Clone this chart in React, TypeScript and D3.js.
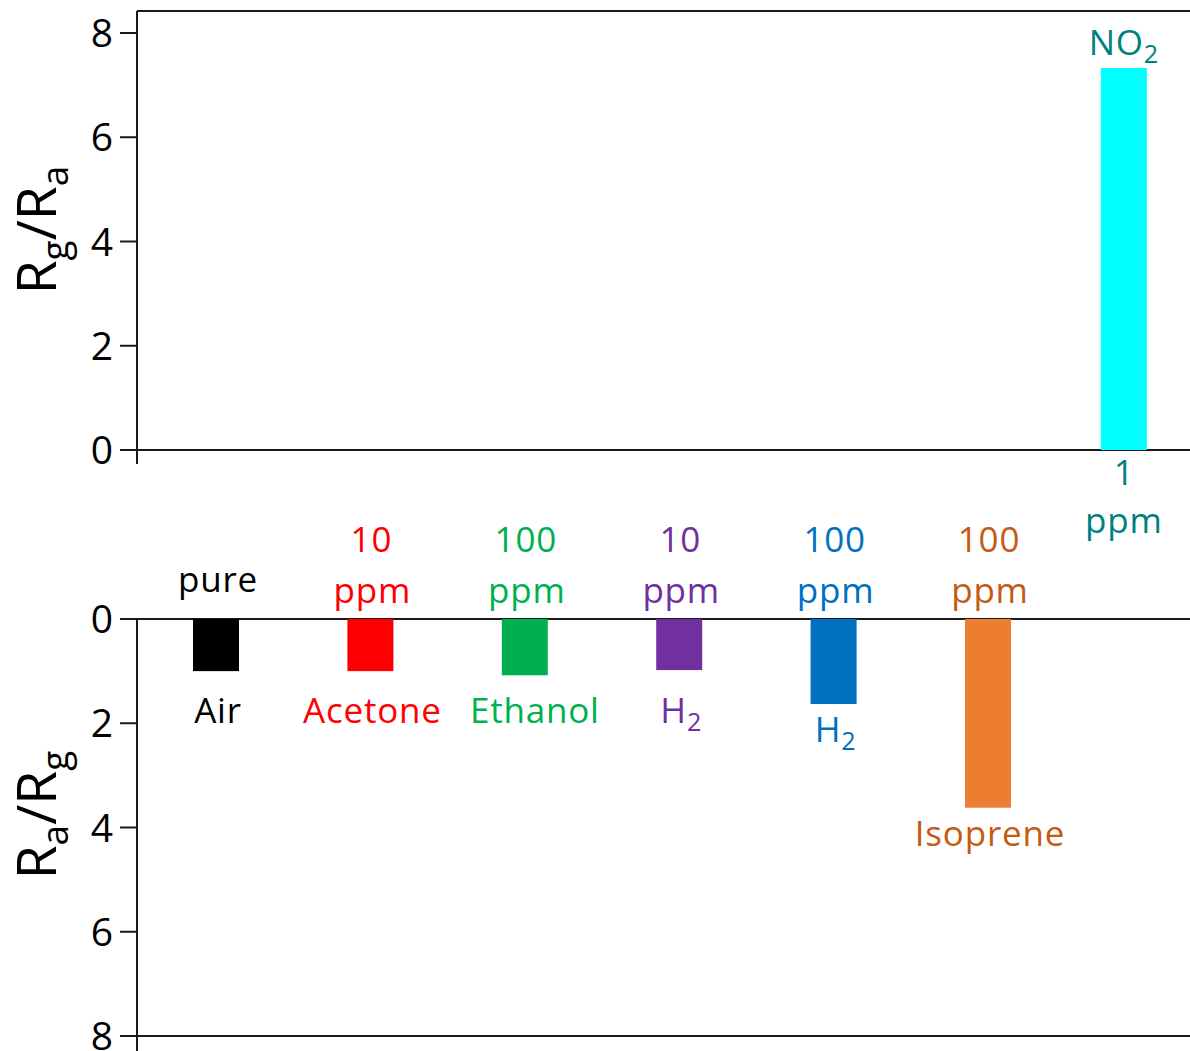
import React from "react";
import * as d3 from "d3";

// ---- data ----
const gases = ["Air", "Acetone", "Ethanol", "H2", "H2", "Isoprene"];
const concNumbers = ["", "10", "100", "10", "100", "100"];
const concUnits = ["pure", "ppm", "ppm", "ppm", "ppm", "ppm"];
const reducingResponse = [1.0, 1.0, 1.08, 0.98, 1.63, 3.62]; // Ra/Rg
const slots = [0, 1, 2, 3, 4, 5];
const barColors = ["#000000", "#FF0000", "#00B050", "#7030A0", "#0070C0", "#ED7D31"];
const textColors = ["#000000", "#FF0000", "#00B050", "#7030A0", "#0070C0", "#C55A11"];

const oxGas = ["NO2"];
const oxConc = ["1"];
const oxUnit = ["ppm"];
const oxResponse = [7.33]; // Rg/Ra
const oxSlot = [5.88];
const oxBarColor = ["#00FFFF"];
const oxTextColor = ["#008080"];

const yTicks = [0, 2, 4, 6, 8];

const W = 1190;
const H = 1051;
const FONT = "'Open Sans', 'Noto Sans', sans-serif";
const AX = "#1a1a1a";

function Formula({ label, x, y, color, size }: { label: string; x: number; y: number; color: string; size: number }) {
  const parts = label.match(/[A-Za-z]+|\d+/g) || [];
  const children: any[] = [];
  let sub = false;
  parts.forEach((p, i) => {
    if (/^\d+$/.test(p) && i > 0) {
      children.push(
        <tspan key={i} fontSize={size * 0.72} dy={size * 0.22}>
          {p}
        </tspan>
      );
      sub = true;
    } else {
      children.push(
        <tspan key={i} dy={sub ? -size * 0.22 : 0}>
          {p}
        </tspan>
      );
      sub = false;
    }
  });
  return (
    <text x={x} y={y} fill={color} fontSize={size} textAnchor="middle" fontFamily={FONT} letterSpacing={0.8}>
      {children}
    </text>
  );
}

export default function App() {
  const x = d3.scaleLinear().domain([0, 5]).range([216, 988]);
  const barW = 46;
  const yTop = d3.scaleLinear().domain([0, 8]).range([450, 33]);
  const yBot = d3.scaleLinear().domain([0, 8]).range([619, 1036]);
  const axisX = 137;
  const right = W;
  const labelSize = 35;

  return (
    <svg width={W} height={H} style={{ position: "absolute", left: 0, top: 0, background: "#fff" }}>
      <rect x={0} y={0} width={W} height={H} fill="#fff" />

      {/* ---------- top panel ---------- */}
      <line x1={axisX} x2={right} y1={11} y2={11} stroke={AX} strokeWidth={2} />
      <line x1={axisX} x2={right} y1={yTop(0)} y2={yTop(0)} stroke={AX} strokeWidth={2} />
      <line x1={axisX} x2={axisX} y1={11} y2={yTop(0) + 14} stroke={AX} strokeWidth={2} />
      {yTicks.map((t) => (
        <g key={"tt" + t}>
          <line x1={axisX - 17} x2={axisX} y1={yTop(t)} y2={yTop(t)} stroke={AX} strokeWidth={2} />
          <text x={113} y={yTop(t)} dy="0.36em" textAnchor="end" fontSize={39} fontFamily={FONT} fill="#000">
            {t}
          </text>
        </g>
      ))}
      <text transform={`translate(56,230) rotate(-90)`} textAnchor="middle" fontSize={55} fontFamily={FONT} fill="#000">
        R<tspan fontSize={37} dy={12}>g</tspan>
        <tspan dy={-12}>/R</tspan>
        <tspan fontSize={37} dy={12}>a</tspan>
      </text>

      {oxResponse.map((v, i) => {
        const cx = x(oxSlot[i]);
        return (
          <g key={"ox" + i}>
            <rect x={cx - barW / 2} y={yTop(v)} width={barW} height={yTop(0) - yTop(v)} fill={oxBarColor[i]} />
            <Formula label={oxGas[i]} x={cx} y={yTop(v) - 13} color={oxTextColor[i]} size={labelSize} />
            <text x={cx} y={yTop(0) + 35} textAnchor="middle" fontSize={labelSize} fontFamily={FONT} fill={oxTextColor[i]}>
              {oxConc[i]}
            </text>
            <text x={cx} y={yTop(0) + 83} textAnchor="middle" fontSize={labelSize} fontFamily={FONT} fill={oxTextColor[i]} letterSpacing={0.8}>
              {oxUnit[i]}
            </text>
          </g>
        );
      })}

      {/* ---------- bottom panel ---------- */}
      <line x1={axisX} x2={right} y1={yBot(0)} y2={yBot(0)} stroke={AX} strokeWidth={2} />
      <line x1={axisX} x2={right} y1={yBot(8)} y2={yBot(8)} stroke={AX} strokeWidth={2} />
      <line x1={axisX} x2={axisX} y1={yBot(0)} y2={H} stroke={AX} strokeWidth={2} />
      {yTicks.map((t) => (
        <g key={"bt" + t}>
          <line x1={axisX - 17} x2={axisX} y1={yBot(t)} y2={yBot(t)} stroke={AX} strokeWidth={2} />
          <text x={113} y={yBot(t)} dy="0.36em" textAnchor="end" fontSize={39} fontFamily={FONT} fill="#000">
            {t}
          </text>
        </g>
      ))}
      <text transform={`translate(56,815) rotate(-90)`} textAnchor="middle" fontSize={55} fontFamily={FONT} fill="#000">
        R<tspan fontSize={37} dy={12}>a</tspan>
        <tspan dy={-12}>/R</tspan>
        <tspan fontSize={37} dy={12}>g</tspan>
      </text>

      {reducingResponse.map((v, i) => {
        const cx = x(slots[i]);
        const yEnd = yBot(v);
        const nameY = Math.max(yEnd + 38, yBot(0) + 104);
        const hasNum = concNumbers[i] !== "";
        return (
          <g key={"red" + i}>
            <rect x={cx - barW / 2} y={yBot(0)} width={barW} height={yEnd - yBot(0)} fill={barColors[i]} />
            {hasNum && (
              <text x={cx + 1} y={yBot(0) - 67} textAnchor="middle" fontSize={labelSize} fontFamily={FONT} fill={textColors[i]} letterSpacing={0.8}>
                {concNumbers[i]}
              </text>
            )}
            <text
              x={cx + 2}
              y={hasNum ? yBot(0) - 16 : yBot(0) - 27}
              textAnchor="middle"
              fontSize={labelSize}
              fontFamily={FONT}
              fill={textColors[i]}
              letterSpacing={0.8}
            >
              {concUnits[i]}
            </text>
            <Formula label={gases[i]} x={cx + (i === 2 ? 10 : 2)} y={nameY} color={textColors[i]} size={labelSize} />
          </g>
        );
      })}
    </svg>
  );
}
